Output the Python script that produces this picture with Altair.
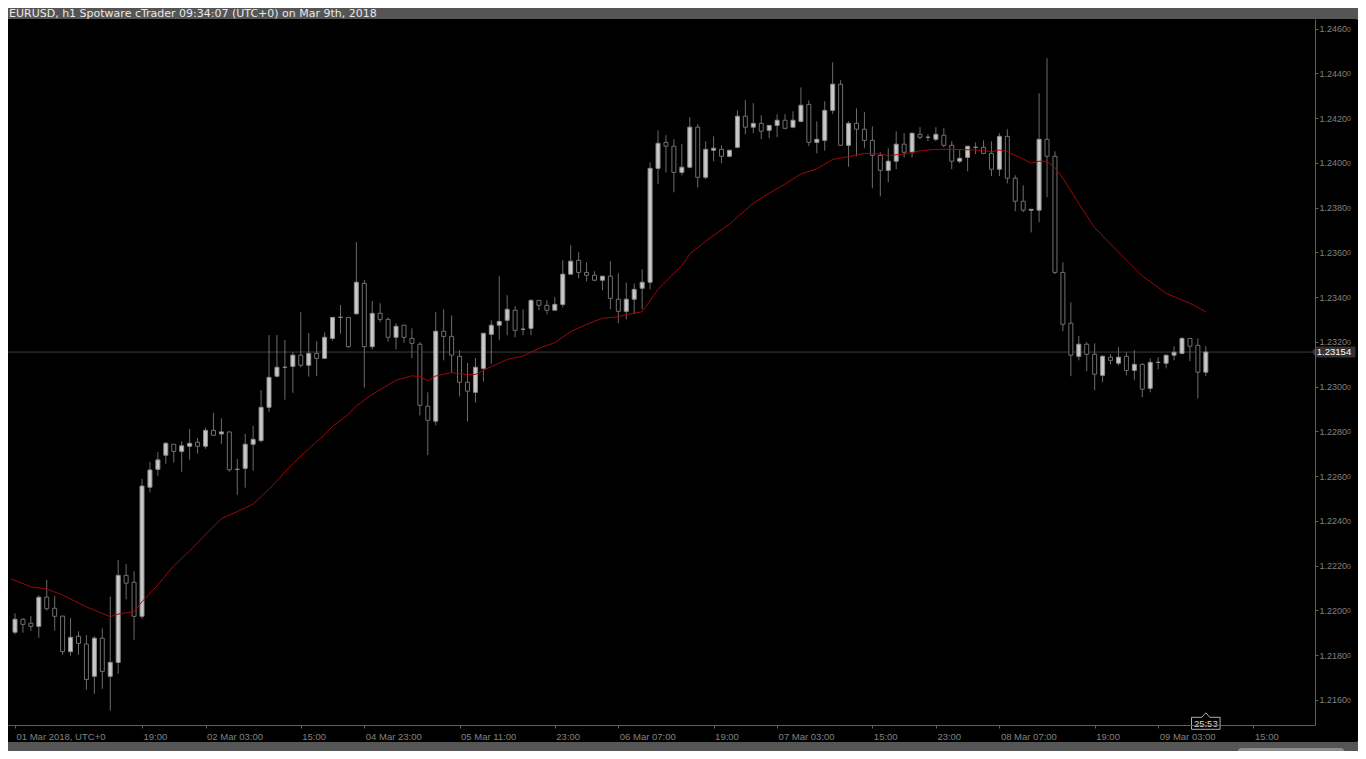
import altair as alt
import pandas as pd

# ---------------- data (EURUSD h1) ----------------
opens = [1.21902, 1.21960, 1.21942, 1.21928, 1.22059, 1.22009, 1.21974, 1.21815, 1.21884, 1.21849,
         1.21705, 1.21875, 1.21705, 1.21767, 1.22156, 1.22125, 1.21973, 1.22550, 1.22630, 1.22693,
         1.22742, 1.22710, 1.22733, 1.22751, 1.22733, 1.22804, 1.22788, 1.22797, 1.22630, 1.22634,
         1.22742, 1.22758, 1.22907, 1.23046, 1.23086, 1.23090, 1.23140, 1.23095, 1.23148, 1.23126,
         1.23215, 1.23309, 1.23309, 1.23325, 1.23461, 1.23178, 1.23327, 1.23300, 1.23220, 1.23274,
         1.23215, 1.23189, 1.22912, 1.22845, 1.23247, 1.23224, 1.23135, 1.23019, 1.22974, 1.23081,
         1.23233, 1.23274, 1.23296, 1.23341, 1.23256, 1.23260, 1.23385, 1.23363, 1.23341, 1.23367,
         1.23502, 1.23564, 1.23510, 1.23497, 1.23475, 1.23493, 1.23390, 1.23336, 1.23390, 1.23439,
         1.23466, 1.23975, 1.24091, 1.24074, 1.23957, 1.23980, 1.24159, 1.23935, 1.24056, 1.24060,
         1.24029, 1.24069, 1.24208, 1.24159, 1.24176, 1.24145, 1.24167, 1.24190, 1.24159, 1.24185,
         1.24261, 1.24091, 1.24100, 1.24234, 1.24351, 1.24078, 1.24176, 1.24150, 1.24100, 1.24033,
         1.23966, 1.24007, 1.24083, 1.24047, 1.24127, 1.24114, 1.24105, 1.24123, 1.24078, 1.24007,
         1.24024, 1.24069, 1.24069, 1.24042, 1.23971, 1.24118, 1.23931, 1.23828, 1.23788, 1.23788,
         1.24105, 1.24029, 1.23510, 1.23283, 1.23135, 1.23189, 1.23144, 1.23050, 1.23131, 1.23104,
         1.23135, 1.23072, 1.23099, 1.22992, 1.23108, 1.23104, 1.23140, 1.23148, 1.23215, 1.23184,
         1.23064]

highs = [1.21986, 1.21964, 1.21974, 1.22067, 1.22135, 1.22064, 1.21974, 1.21965, 1.21906, 1.21889,
         1.21884, 1.21919, 1.22061, 1.22225, 1.22207, 1.22174, 1.22587, 1.22663, 1.22707, 1.22752,
         1.22742, 1.22756, 1.22810, 1.22770, 1.22816, 1.22882, 1.22858, 1.22797, 1.22676, 1.22788,
         1.22824, 1.22984, 1.23230, 1.23230, 1.23208, 1.23153, 1.23332, 1.23239, 1.23202, 1.23242,
         1.23309, 1.23364, 1.23309, 1.23645, 1.23476, 1.23382, 1.23372, 1.23309, 1.23283, 1.23274,
         1.23260, 1.23198, 1.22974, 1.23332, 1.23345, 1.23318, 1.23162, 1.23105, 1.23127, 1.23238,
         1.23296, 1.23493, 1.23408, 1.23359, 1.23345, 1.23390, 1.23385, 1.23385, 1.23399, 1.23564,
         1.23631, 1.23600, 1.23555, 1.23515, 1.23493, 1.23560, 1.23506, 1.23464, 1.23460, 1.23524,
         1.24002, 1.24145, 1.24123, 1.24105, 1.24083, 1.24203, 1.24172, 1.24096, 1.24118, 1.24078,
         1.24056, 1.24234, 1.24281, 1.24266, 1.24212, 1.24167, 1.24217, 1.24217, 1.24230, 1.24337,
         1.24279, 1.24185, 1.24275, 1.24449, 1.24369, 1.24185, 1.24243, 1.24226, 1.24163, 1.24047,
         1.24065, 1.24141, 1.24132, 1.24136, 1.24159, 1.24127, 1.24159, 1.24154, 1.24096, 1.24060,
         1.24074, 1.24091, 1.24100, 1.24096, 1.24132, 1.24150, 1.23944, 1.23899, 1.23793, 1.24310,
         1.24467, 1.24051, 1.23555, 1.23376, 1.23226, 1.23198, 1.23193, 1.23140, 1.23144, 1.23175,
         1.23153, 1.23162, 1.23104, 1.23126, 1.23131, 1.23140, 1.23180, 1.23220, 1.23215, 1.23215,
         1.23180]

lows = [1.21892, 1.21900, 1.21909, 1.21877, 1.21998, 1.21909, 1.21801, 1.21797, 1.21801, 1.21645,
        1.21627, 1.21649, 1.21551, 1.21716, 1.22049, 1.21868, 1.21962, 1.22527, 1.22601, 1.22655,
        1.22660, 1.22619, 1.22673, 1.22700, 1.22722, 1.22782, 1.22744, 1.22619, 1.22516, 1.22548,
        1.22624, 1.22751, 1.22887, 1.23041, 1.22941, 1.22972, 1.23086, 1.23044, 1.23046, 1.23126,
        1.23205, 1.23236, 1.23173, 1.23321, 1.22995, 1.23166, 1.23287, 1.23200, 1.23166, 1.23196,
        1.23126, 1.22871, 1.22693, 1.22827, 1.23117, 1.23064, 1.22956, 1.22844, 1.22928, 1.23022,
        1.23102, 1.23207, 1.23229, 1.23220, 1.23229, 1.23229, 1.23341, 1.23323, 1.23341, 1.23354,
        1.23502, 1.23484, 1.23470, 1.23470, 1.23430, 1.23345, 1.23283, 1.23300, 1.23323, 1.23345,
        1.23434, 1.23904, 1.23957, 1.23868, 1.23944, 1.23975, 1.23890, 1.23926, 1.24007, 1.23998,
        1.24024, 1.24065, 1.24127, 1.24132, 1.24105, 1.24109, 1.24114, 1.24150, 1.24154, 1.24181,
        1.24074, 1.24042, 1.24054, 1.24217, 1.24078, 1.23982, 1.24029, 1.24065, 1.23886, 1.23850,
        1.23913, 1.23971, 1.24024, 1.24024, 1.24105, 1.24096, 1.24096, 1.24069, 1.23971, 1.23998,
        1.23962, 1.24038, 1.24038, 1.23940, 1.23940, 1.23908, 1.23783, 1.23779, 1.23689, 1.23734,
        1.23846, 1.23502, 1.23247, 1.23046, 1.23117, 1.23068, 1.22983, 1.23019, 1.23099, 1.23095,
        1.23050, 1.23028, 1.22952, 1.22974, 1.23077, 1.23081, 1.23117, 1.23144, 1.23113, 1.22947,
        1.23046]

closes = [1.21960, 1.21937, 1.21928, 1.22058, 1.22007, 1.21973, 1.21815, 1.21879, 1.21852, 1.21691,
          1.21875, 1.21727, 1.21767, 1.22156, 1.22121, 1.21973, 1.22555, 1.22627, 1.22672, 1.22746,
          1.22710, 1.22735, 1.22746, 1.22733, 1.22804, 1.22782, 1.22797, 1.22628, 1.22630, 1.22742,
          1.22764, 1.22907, 1.23041, 1.23086, 1.23086, 1.23140, 1.23095, 1.23148, 1.23126, 1.23220,
          1.23309, 1.23309, 1.23178, 1.23466, 1.23178, 1.23327, 1.23300, 1.23220, 1.23269, 1.23220,
          1.23193, 1.22916, 1.22849, 1.23247, 1.23224, 1.23140, 1.23019, 1.22979, 1.23086, 1.23238,
          1.23274, 1.23291, 1.23345, 1.23251, 1.23256, 1.23385, 1.23363, 1.23341, 1.23367, 1.23502,
          1.23560, 1.23510, 1.23497, 1.23475, 1.23493, 1.23394, 1.23336, 1.23390, 1.23434, 1.23466,
          1.23975, 1.24087, 1.24074, 1.23957, 1.23980, 1.24159, 1.23935, 1.24060, 1.24065, 1.24029,
          1.24056, 1.24208, 1.24159, 1.24176, 1.24141, 1.24167, 1.24190, 1.24154, 1.24190, 1.24257,
          1.24091, 1.24105, 1.24234, 1.24351, 1.24078, 1.24176, 1.24150, 1.24100, 1.24033, 1.23966,
          1.24007, 1.24083, 1.24047, 1.24132, 1.24114, 1.24114, 1.24127, 1.24078, 1.24007, 1.24020,
          1.24074, 1.24069, 1.24042, 1.23971, 1.24118, 1.23931, 1.23828, 1.23788, 1.23792, 1.24105,
          1.24029, 1.23510, 1.23278, 1.23140, 1.23189, 1.23144, 1.23055, 1.23135, 1.23117, 1.23131,
          1.23072, 1.23099, 1.22988, 1.23108, 1.23108, 1.23140, 1.23153, 1.23215, 1.23180, 1.23064,
          1.23154]

# moving average (red line), sampled at bar positions
ma_idx = [-0.5, 2, 4, 6, 9, 12, 13, 15, 16, 18, 20, 22, 26, 28, 30, 32, 35, 37, 39, 40,
          42, 43, 45, 48, 50, 51, 52, 53, 55, 57, 58, 60, 62, 64, 66, 68, 70, 72, 74, 76,
          77, 79, 81, 84, 85, 87, 90, 93, 95, 97, 99, 101, 103, 105, 107, 109, 110, 112, 114, 116,
          118, 122, 123, 124, 125, 127, 128, 129, 130, 131, 132, 134, 136, 139, 140, 142, 145, 147, 148, 150]
ma_val = [1.22140, 1.22105, 1.22095, 1.22068, 1.22015, 1.21971, 1.21983, 1.21994, 1.22038, 1.22113,
          1.22199, 1.22265, 1.22410, 1.22441, 1.22475, 1.22541, 1.22655, 1.22722, 1.22784, 1.22822,
          1.22875, 1.22913, 1.22965, 1.23028, 1.23048, 1.23044, 1.23026, 1.23047, 1.23062, 1.23053,
          1.23054, 1.23089, 1.23121, 1.23136, 1.23171, 1.23196, 1.23245, 1.23278, 1.23305, 1.23312,
          1.23321, 1.23334, 1.23434, 1.23541, 1.23592, 1.23650, 1.23726, 1.23819, 1.23864, 1.23905,
          1.23950, 1.23973, 1.24015, 1.24027, 1.24042, 1.24039, 1.24032, 1.24039, 1.24053, 1.24060,
          1.24060, 1.24056, 1.24049, 1.24057, 1.24049, 1.24017, 1.23998, 1.24007, 1.24007, 1.23978,
          1.23931, 1.23818, 1.23710, 1.23601, 1.23565, 1.23494, 1.23417, 1.23386, 1.23372, 1.23334]

x_tick_idx = [0, 16, 24, 36, 44, 56, 68, 76, 88, 96, 108, 116, 124, 136, 144, 156]
x_tick_lbl = ["01 Mar 2018, UTC+0", "19:00", "02 Mar 03:00", "15:00", "04 Mar 23:00",
              "05 Mar 11:00", "23:00", "06 Mar 07:00", "19:00", "07 Mar 03:00", "15:00",
              "23:00", "08 Mar 07:00", "19:00", "09 Mar 03:00", "15:00"]
y_ticks = [1.2160, 1.2180, 1.2200, 1.2220, 1.2240, 1.2260, 1.2280, 1.2300,
           1.2320, 1.2340, 1.2360, 1.2380, 1.2400, 1.2420, 1.2440, 1.2460]
last_price = 1.23154
title_text = "EURUSD, h1 Spotware cTrader 09:34:07 (UTC+0) on Mar 9th, 2018"
timer_text = "25:53"

# ---------------- frames ----------------
n = len(opens)
df = pd.DataFrame({"i": list(range(n)), "open": opens, "high": highs,
                   "low": lows, "close": closes})
df["dir"] = ["up" if c >= o else "down" for o, c in zip(opens, closes)]
ma_df = pd.DataFrame({"i": ma_idx, "ma": ma_val})
one = pd.DataFrame({"a": [0]})

W, H = 1307, 706
FONT = "Liberation Sans"
AX = "#5e5e5e"

xs = alt.Scale(domain=[-0.25, 163.125], nice=False, zero=False)
ys = alt.Scale(domain=[1.214872, 1.246425], nice=False, zero=False)

label_expr = " : ".join(f"datum.value == {v} ? '{l}'" for v, l in zip(x_tick_idx, x_tick_lbl)) + " : ''"
xaxis = alt.Axis(values=x_tick_idx, labelExpr=label_expr, title=None, grid=False,
                 domainColor=AX, tickColor=AX, tickSize=3, labelColor="#808080",
                 labelFont=FONT, labelFontSize=9.5, labelAlign="left", labelBaseline="top",
                 labelPadding=3, labelOffset=1, labelOverlap=False, labelFlush=False,
                 labelBound=False, zindex=1)
yaxis = alt.Axis(orient="right", values=y_ticks, format=".4f", title=None, grid=False,
                 domainColor=AX, tickColor=AX, tickSize=3, labelColor="#808080",
                 labelFont=FONT, labelFontSize=9, labelPadding=1, labelOverlap=False,
                 labelFlush=False, labelBound=False, zindex=1)

X = alt.X("i:Q", scale=xs, axis=xaxis)

panel = alt.Chart(one).mark_rect(fill="#000000", cornerRadius=5).encode(
    x=alt.value(-10), x2=alt.value(1352), y=alt.value(0), y2=alt.value(723))

title = alt.Chart(one).mark_text(align="left", baseline="alphabetic", font="DejaVu Sans",
                                 fontSize=11, color="#e8e8e8").encode(
    x=alt.value(1), y=alt.value(-2.5), text=alt.value(title_text))

price_line = alt.Chart(pd.DataFrame({"p": [last_price]})).mark_rule(
    color="#3e3e3e", strokeWidth=1).encode(y=alt.Y("p:Q", scale=ys, axis=yaxis))

wicks = alt.Chart(df).mark_rule(color="#6c6c6c", strokeWidth=1).encode(
    x=X, y=alt.Y("low:Q", scale=ys, axis=yaxis), y2="high:Q")

bodies = alt.Chart(df).mark_bar(size=4, strokeWidth=1).encode(
    x=X, y=alt.Y("open:Q", scale=ys, axis=yaxis), y2="close:Q",
    fill=alt.Fill("dir:N", scale=alt.Scale(domain=["up", "down"], range=["#c8c8c8", "#000000"]), legend=None),
    stroke=alt.Stroke("dir:N", scale=alt.Scale(domain=["up", "down"], range=["#8c8c8c", "#707070"]), legend=None))

ma_line = alt.Chart(ma_df).mark_line(color="#a00808", strokeWidth=1, clip=True).encode(
    x=X, y=alt.Y("ma:Q", scale=ys, axis=yaxis))

zeros = alt.Chart(pd.DataFrame({"t": y_ticks})).mark_text(
    align="left", baseline="alphabetic", font=FONT, fontSize=7, color="#808080", dy=3).encode(
    x=alt.value(1339), y=alt.Y("t:Q", scale=ys, axis=yaxis), text=alt.value("0"))

box_path = "M-22,0L-17,-5.5L22,-5.5L22,5.5L-17,5.5Z"
price_box = alt.Chart(pd.DataFrame({"p": [last_price]})).mark_point(
    shape=box_path, size=4, filled=True, color="#333333", opacity=1, strokeWidth=0).encode(
    x=alt.value(1325.5), y=alt.Y("p:Q", scale=ys, axis=yaxis))
price_txt = alt.Chart(pd.DataFrame({"p": [last_price]})).mark_text(
    font=FONT, fontSize=9.5, color="#ffffff", baseline="middle").encode(
    x=alt.value(1326), y=alt.Y("p:Q", scale=ys, axis=yaxis), text=alt.Text("p:Q", format=".5f"))

timer_df = pd.DataFrame({"i": [n - 1], "lbl": [timer_text]})
timer_path = "M-14.3,-6L-4,-6L0,-10.5L4,-6L14.3,-6L14.3,6L-14.3,6Z"
timer_box = alt.Chart(timer_df).mark_point(
    shape=timer_path, size=4, filled=False, fill="#000000", stroke="#b0b0b0",
    strokeWidth=1, opacity=1).encode(x=X, y=alt.value(704.3))
timer_txt = alt.Chart(timer_df).mark_text(font=FONT, fontSize=9.5, color="#d8d8d8",
                                         baseline="middle").encode(
    x=X, y=alt.value(704.5), text="lbl:N")

thumb = alt.Chart(one).mark_rect(fill="#8e8e8e", cornerRadius=3).encode(
    x=alt.value(1230), x2=alt.value(1336), y=alt.value(729), y2=alt.value(735))

chart = alt.layer(panel, title, price_line, wicks, bodies, ma_line, zeros,
                  price_box, price_txt, timer_box, timer_txt, thumb).properties(
    width=W, height=H,
    padding={"left": 0, "top": 11, "right": 43, "bottom": 26},
    autosize=alt.AutoSizeParams(type="none"),
    background="#555555",
).configure_view(stroke=None)

chart.save("out.html", embed_options={"renderer": "svg", "actions": False})
